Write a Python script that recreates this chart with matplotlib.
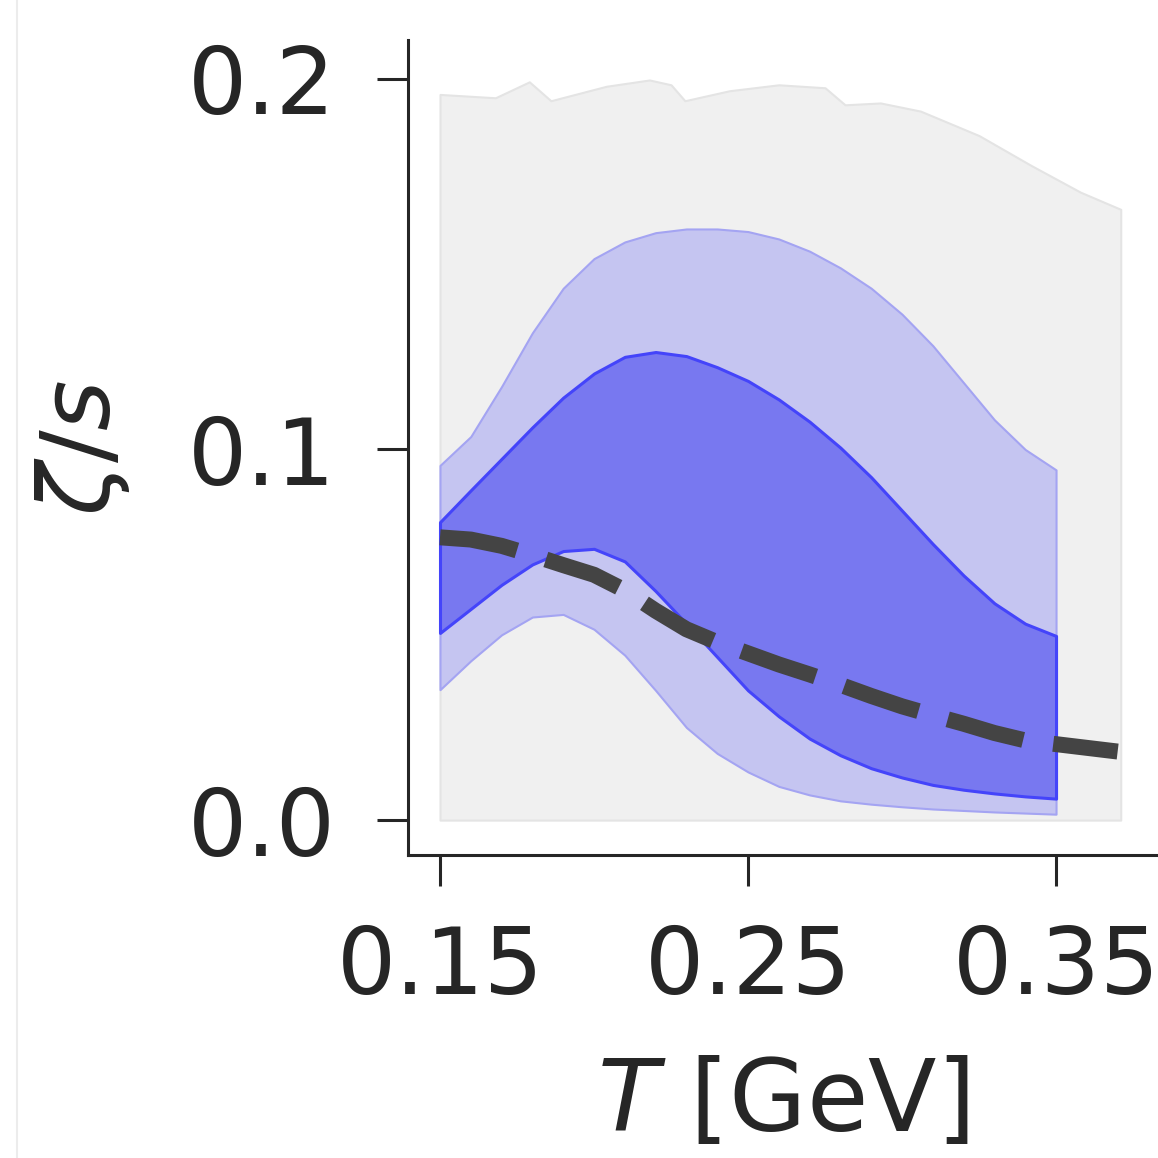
import matplotlib
matplotlib.use('Agg')
import matplotlib.pyplot as plt
from matplotlib.lines import Line2D

# temperature grid of the posterior bands (GeV)
T = [0.15, 0.16, 0.17, 0.18, 0.19, 0.20, 0.21, 0.22, 0.23, 0.24, 0.25,
     0.26, 0.27, 0.28, 0.29, 0.30, 0.31, 0.32, 0.33, 0.34, 0.35]

# 90% band
outer_hi = [0.0957, 0.1035, 0.117, 0.1315, 0.1435, 0.1515, 0.156, 0.1585, 0.1595, 0.1595, 0.1588,
            0.1568, 0.1535, 0.149, 0.1435, 0.1365, 0.128, 0.118, 0.108, 0.100, 0.0945]
outer_lo = [0.0352, 0.043, 0.050, 0.0548, 0.0555, 0.0515, 0.0445, 0.035, 0.025, 0.018, 0.013,
            0.0091, 0.0068, 0.0052, 0.0043, 0.0036, 0.003, 0.0026, 0.0022, 0.0019, 0.0016]
# 60% band
inner_hi = [0.0804, 0.089, 0.0975, 0.106, 0.114, 0.1205, 0.125, 0.1263, 0.1252, 0.1222, 0.1185,
            0.1135, 0.1075, 0.1005, 0.0925, 0.0835, 0.0745, 0.066, 0.0585, 0.053, 0.0497]
inner_lo = [0.0505, 0.057, 0.0635, 0.069, 0.0726, 0.0732, 0.0698, 0.0618, 0.053, 0.044, 0.035,
            0.028, 0.022, 0.0175, 0.014, 0.0115, 0.0095, 0.0082, 0.0072, 0.0064, 0.0058]

# prior range
prior_T = [0.15, 0.168, 0.179, 0.186, 0.204, 0.218, 0.225, 0.2295, 0.244, 0.260,
           0.275, 0.2815, 0.293, 0.306, 0.325, 0.342, 0.358, 0.371]
prior_hi = [0.1958, 0.1949, 0.1992, 0.1941, 0.198, 0.1997, 0.1984, 0.1941, 0.1968, 0.1984,
            0.1976, 0.193, 0.1935, 0.1913, 0.1847, 0.1766, 0.1694, 0.1648]

# dashed reference curve
ref_T = [0.15, 0.16, 0.17, 0.18, 0.19, 0.20, 0.21, 0.22, 0.23, 0.24, 0.25, 0.26,
         0.27, 0.28, 0.29, 0.30, 0.31, 0.32, 0.33, 0.34, 0.35, 0.36, 0.37]
ref_val = [0.0763, 0.0757, 0.074, 0.0715, 0.0688, 0.0662, 0.062, 0.0565, 0.0515, 0.048, 0.045, 0.042,
           0.0393, 0.0365, 0.0335, 0.0307, 0.0283, 0.026, 0.0235, 0.0215, 0.0205, 0.0195, 0.0185]

xticks = [0.15, 0.25, 0.35]
yticks = [0.0, 0.1, 0.2]

txt = '#262626'
plt.rcParams['font.family'] = ['DejaVu Sans']
plt.rcParams['mathtext.fontset'] = 'dejavusans'

fig = plt.figure(figsize=(11.58, 11.58), dpi=100)
ax = fig.add_axes([0.3523, 0.2617, 0.6477, 0.7038])

ax.fill_between(prior_T, 0, prior_hi, facecolor='#f0f0f0', edgecolor='#e4e4e4', linewidth=1.5, zorder=1)
ax.fill_between(T, outer_lo, outer_hi, facecolor='#c5c5f1', edgecolor='#a4a4f2', linewidth=1.5, zorder=2)
ax.fill_between(T, inner_lo, inner_hi, facecolor='#7878f0', edgecolor='#4444fa', linewidth=2.2, zorder=3)
ax.plot(ref_T, ref_val, color='#444444', linewidth=11.5, dashes=(4.9, 1.9), zorder=4)

ax.set_xlim(0.1396, 0.3831)
ax.set_ylim(-0.0094, 0.2105)
ax.set_xticks(xticks)
ax.set_xticklabels(['0.15', '0.25', '0.35'])
ax.set_yticks(yticks)
ax.set_yticklabels(['0.0', '0.1', '0.2'])

for s in ['top', 'right']:
    ax.spines[s].set_visible(False)
for s in ['left', 'bottom']:
    ax.spines[s].set_linewidth(2.2)
    ax.spines[s].set_color(txt)

ax.tick_params(axis='both', length=22, width=2.2, color=txt, labelcolor=txt, labelsize=67)
ax.tick_params(axis='y', pad=30)
ax.tick_params(axis='x', pad=27)

ax.set_xlabel(r'$T$ [GeV]', fontsize=72, color=txt, labelpad=30)
ax.set_ylabel(r'$\zeta/s$', fontsize=70, color=txt, labelpad=40)

# faint border of the original screenshot
fig.add_artist(Line2D([0.015, 0.015], [0, 1], transform=fig.transFigure, color='#ececec', linewidth=1.5))

fig.savefig('out.png', dpi=100)
